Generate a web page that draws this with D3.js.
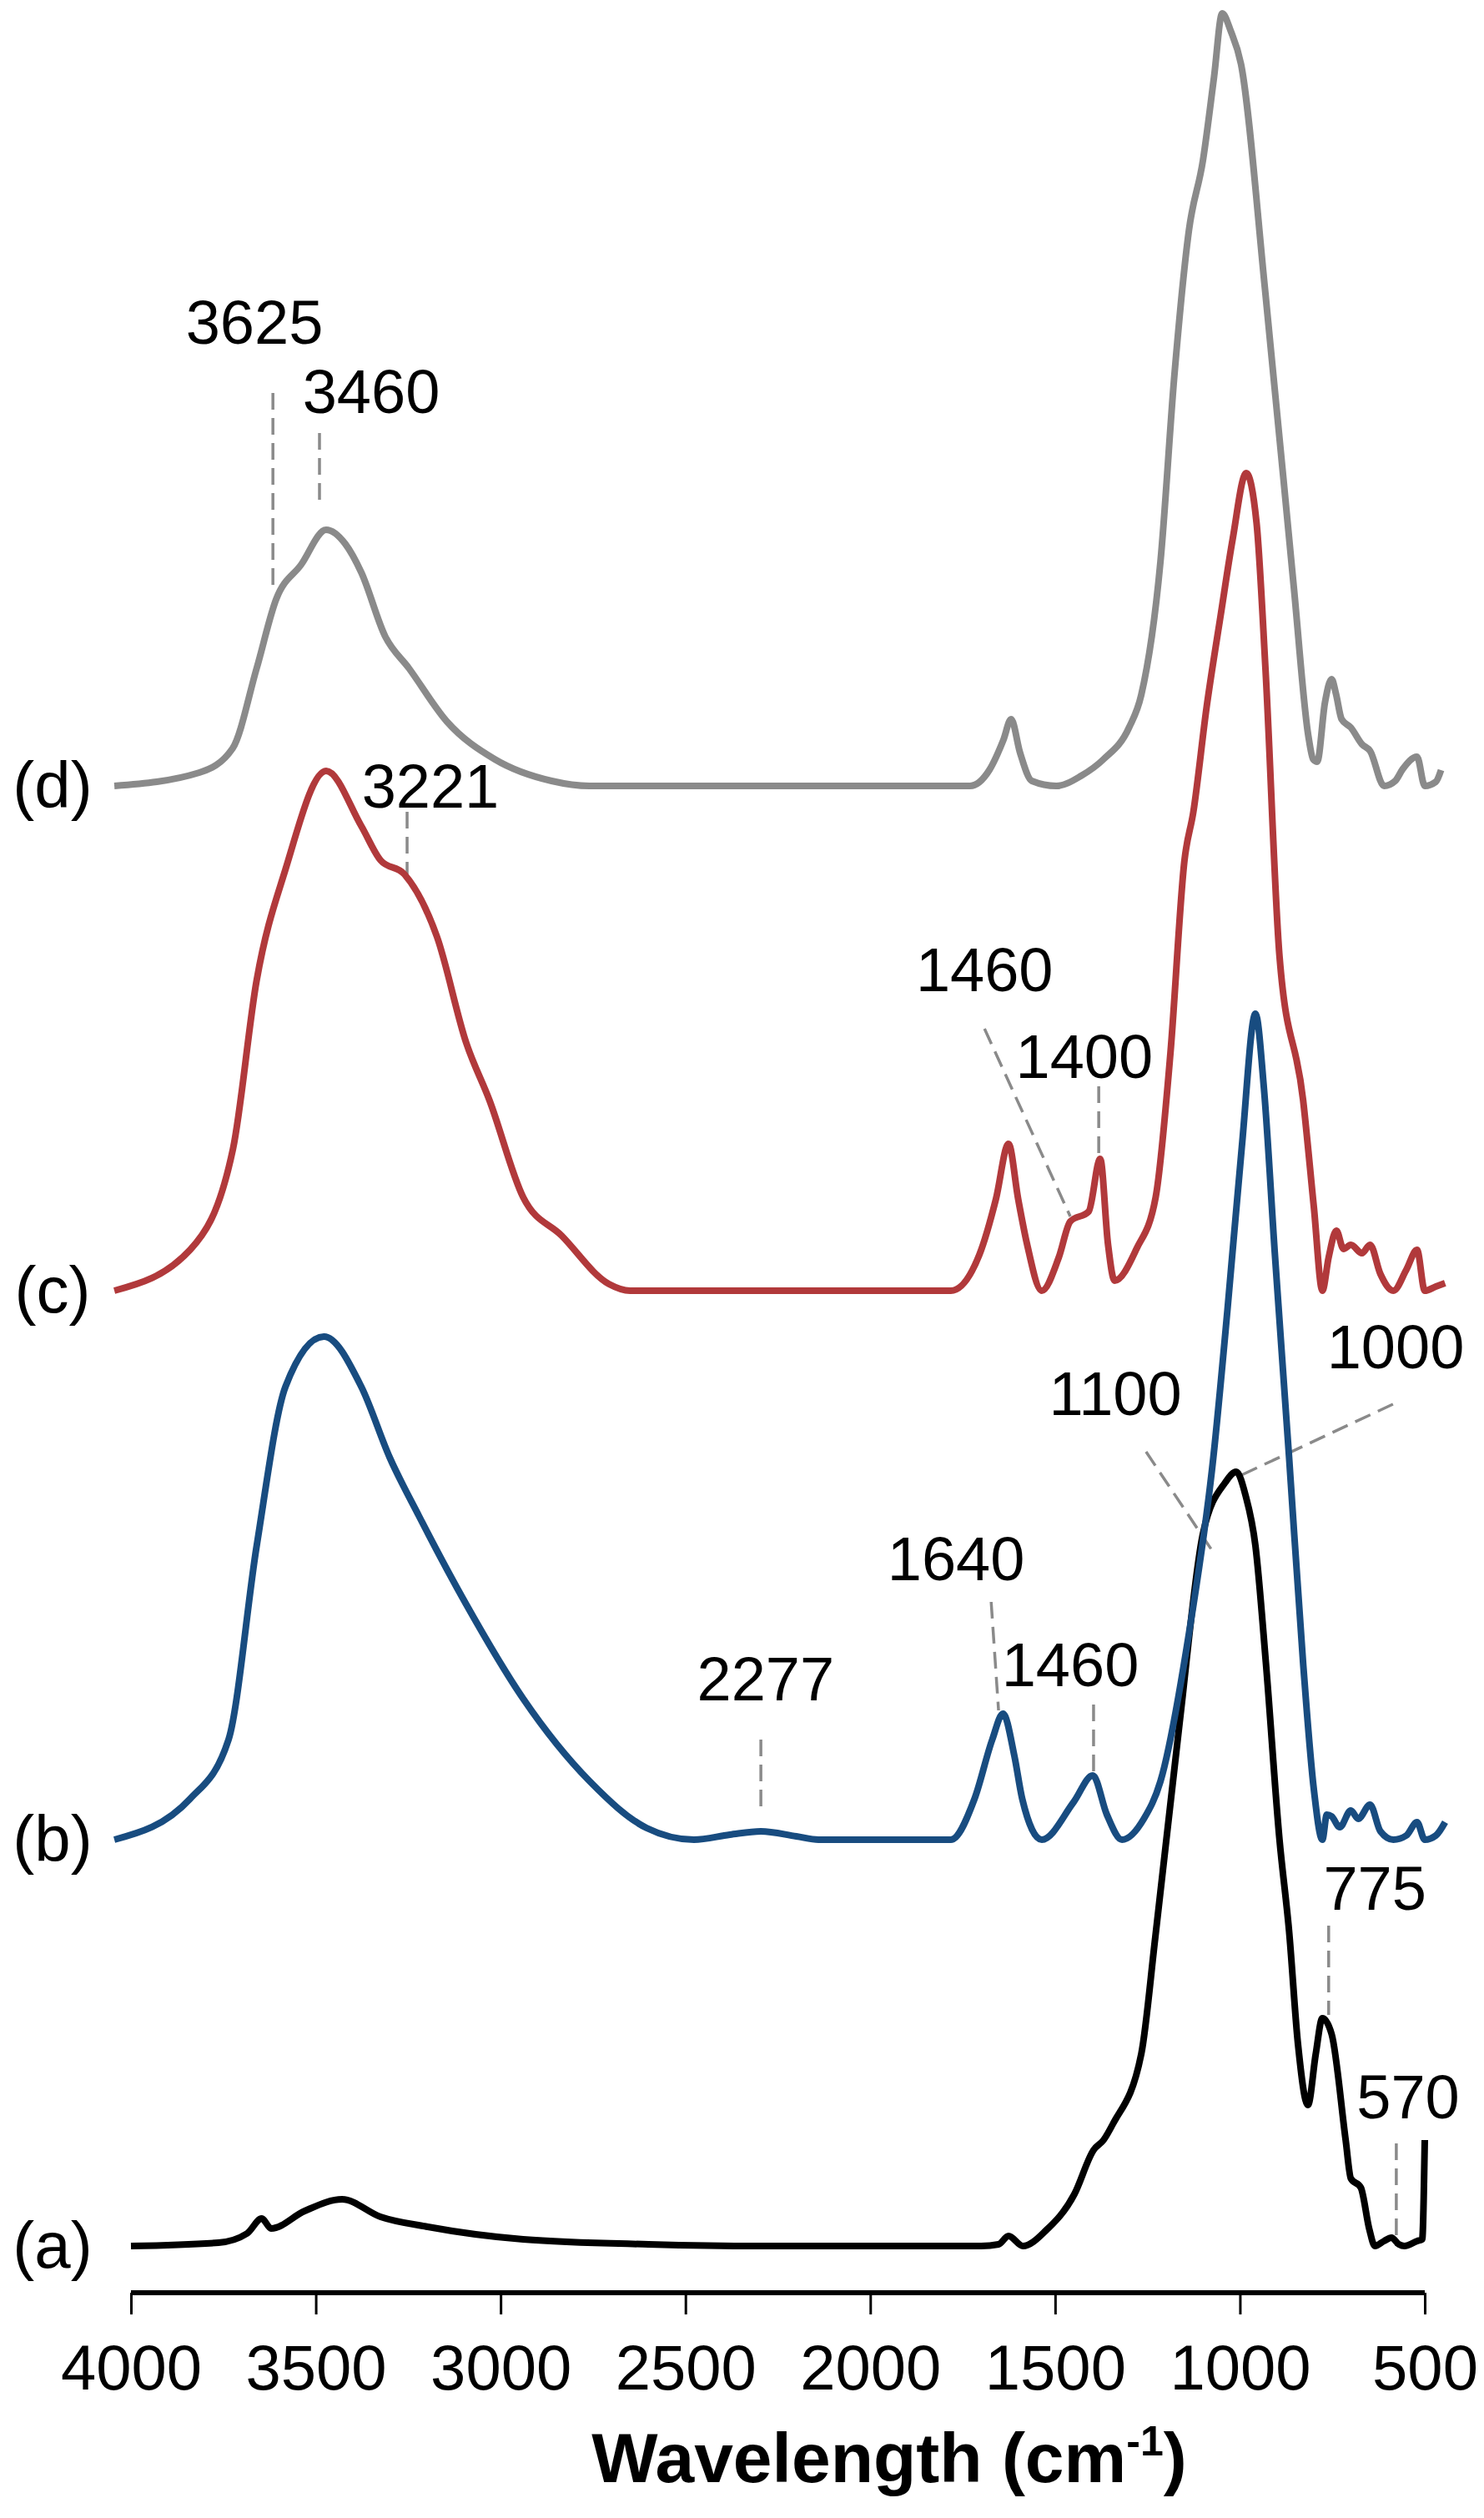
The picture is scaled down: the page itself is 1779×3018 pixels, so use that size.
<!DOCTYPE html>
<html><head><meta charset="utf-8">
<script src="https://cdn.jsdelivr.net/npm/d3@7"></script>
<style>body{margin:0;background:#fff}svg{display:block;font-family:"Liberation Sans",Arial,sans-serif}</style>
</head><body>
<svg id="c" width="1779" height="3018"></svg>
<script>
// wavenumber (cm-1), intensity (arbitrary, relative to baseline)
const seriesA = [[4000,0],[3763,4],[3686,15],[3646,33],[3621,21],[3530,42],[3429,56],[3325,35],[3197,23],[2939,8],[2600,2],[2300,0],[1700,0],[1653,2],[1626,12],[1587,0],[1524,19],[1448,62],[1396,115],[1369,127],[1344,146],[1267,230],[1229,370],[1163,628],[1100,854],[1040,915],[1010,928],[985,900],[958,839],[930,700],[893,487],[867,377],[843,242],[816,169],[795,230],[777,273],[752,254],[714,127],[700,81],[673,70],[650,20],[635,0],[610,6],[590,10],[570,2],[555,0],[520,6],[507,8],[500,127]];
const seriesB = [[4045,0],[3840,49],[3736,120],[3660,352],[3582,543],[3478,603],[3377,543],[3300,458],[3221,388],[3093,282],[2939,169],[2759,70],[2605,14],[2477,0],[2380,6],[2296,10],[2200,4],[2140,0],[1782,0],[1718,49],[1670,120],[1641,151],[1610,100],[1589,49],[1536,0],[1450,45],[1398,77],[1360,30],[1319,0],[1260,25],[1215,70],[1138,247],[1072,458],[1034,634],[995,830],[958,990],[935,900],[906,705],[867,458],[829,211],[800,60],[777,0],[765,30],[752,28],[730,15],[700,35],[680,25],[648,42],[620,10],[585,0],[550,5],[521,21],[500,0],[470,5],[445,21]];
const seriesC = [[4045,0],[3840,49],[3724,170],[3660,372],[3582,505],[3472,623],[3377,557],[3325,516],[3260,499],[3172,424],[3093,297],[3030,228],[2939,112],[2835,66],[2707,8],[2650,0],[2300,0],[1782,0],[1705,43],[1660,110],[1626,176],[1600,110],[1576,56],[1536,0],[1490,40],[1459,83],[1409,95],[1378,158],[1357,56],[1339,12],[1280,50],[1228,112],[1188,285],[1150,516],[1126,574],[1090,700],[1052,810],[1020,900],[983,980],[955,920],[931,746],[893,401],[829,228],[800,100],[777,0],[760,40],[739,72],[720,50],[700,55],[670,45],[648,55],[620,20],[585,0],[550,25],[521,49],[500,0],[470,5],[445,9]];
const seriesD = [[4045,0],[3815,16],[3725,45],[3660,141],[3607,224],[3540,265],[3472,307],[3420,290],[3377,256],[3312,179],[3248,141],[3145,77],[3016,32],[2862,6],[2760,0],[2300,0],[1730,0],[1678,19],[1640,55],[1619,80],[1595,40],[1563,6],[1497,0],[1430,12],[1369,32],[1300,70],[1267,109],[1215,269],[1177,494],[1138,666],[1100,750],[1070,850],[1048,926],[1025,905],[997,865],[931,590],[854,237],[815,60],[802,32],[791,29],[770,100],[752,128],[740,110],[725,80],[700,70],[670,50],[648,42],[610,0],[580,6],[560,20],[521,35],[500,0],[470,5],[456,19]];
const seriesNames = ["(a)","(b)","(c)","(d)"];
const seriesData = [seriesA, seriesB, seriesC, seriesD];
const seriesOffsets = [56, 543, 1201, 1806];
const seriesColors = ["#000000","#184c80","#b1393b","#8a8a8a"];
const xTicks = [4000,3500,3000,2500,2000,1500,1000,500];
// annotations: label, text wn/intensity, leader from (wn,v) to (wn,v)
const annotations = [
 {t:"3625", tx:3666, ty:2363, x1:3616, y1:2277, x2:3616, y2:2046},
 {t:"3460", tx:3350, ty:2280, x1:3490, y1:2229, x2:3490, y2:2145},
 {t:"3221", tx:3190, ty:1807, x1:3253, y1:1775, x2:3253, y2:1694},
 {t:"1460", tx:1691, ty:1587, x1:1691, y1:1515, x2:1459, y2:1290},
 {t:"1400", tx:1421, ty:1483, x1:1382, y1:1446, x2:1382, y2:1354},
 {t:"1000", tx:579, ty:1135, x1:586, y1:1065, x2:996, y2:980},
 {t:"1100", tx:1337, ty:1079, x1:1254, y1:1008, x2:1073, y2:888},
 {t:"1640", tx:1768, ty:881, x1:1673, y1:828, x2:1653, y2:698},
 {t:"1460", tx:1459, ty:754, x1:1396, y1:705, x2:1396, y2:620},
 {t:"2277", tx:2283, ty:737, x1:2296, y1:663, x2:2296, y2:582},
 {t:"775", tx:635, ty:486, x1:760, y1:440, x2:760, y2:333},
 {t:"570", tx:545, ty:236, x1:577, y1:179, x2:577, y2:56}
];

const svg = d3.select("#c");
const x = d3.scaleLinear().domain([4000,500]).range([157,1708]);
const y = d3.scaleLinear().domain([0,2748]).range([2748,0]);

const ax = svg.append("g").attr("transform","translate(0,2748)")
  .call(d3.axisBottom(x).tickValues(xTicks).tickSize(26).tickPadding(36).tickFormat(d3.format("d")));
ax.select(".domain").attr("stroke","#000").attr("stroke-width",6).attr("d","M157,0H1708");
ax.selectAll(".tick line").attr("stroke","#000").attr("stroke-width",3);
ax.selectAll(".tick text").attr("font-size",76).attr("fill","#000").attr("font-family","Liberation Sans, Arial, sans-serif");

const title = svg.append("text").attr("x",1066).attr("y",2975).attr("text-anchor","middle")
  .attr("font-size",84).attr("font-weight","bold").attr("fill","#000");
title.append("tspan").text("Wavelength (cm");
title.append("tspan").text("-1").attr("font-size",50).attr("dy",-32);
title.append("tspan").text(")").attr("dy",32);

const ag = svg.append("g");
ag.selectAll("line").data(annotations).join("line")
  .attr("x1",d=>x(d.x1)).attr("y1",d=>y(d.y1)).attr("x2",d=>x(d.x2)).attr("y2",d=>y(d.y2))
  .attr("stroke","#8a8a8a").attr("stroke-width",3.5).attr("stroke-dasharray","20,10");
ag.selectAll("text").data(annotations).join("text")
  .attr("x",d=>x(d.tx)).attr("y",d=>y(d.ty)).attr("dy","0.36em").attr("text-anchor","middle")
  .attr("font-size",74).attr("fill","#000").text(d=>d.t);

const line = d3.line().curve(d3.curveMonotoneX);
seriesData.forEach((s,i)=>{
  svg.append("path").datum(s)
    .attr("d", line.x(d=>x(d[0])).y(d=>y(d[1]+seriesOffsets[i])))
    .attr("fill","none").attr("stroke",seriesColors[i]).attr("stroke-width",8).attr("stroke-linejoin","round");
  svg.append("text").attr("x",63).attr("y",y(seriesOffsets[i]+2)).attr("dy","0.36em")
    .attr("text-anchor","middle").attr("font-size",78).attr("fill","#000").text(seriesNames[i]);
});
</script>
</body></html>
